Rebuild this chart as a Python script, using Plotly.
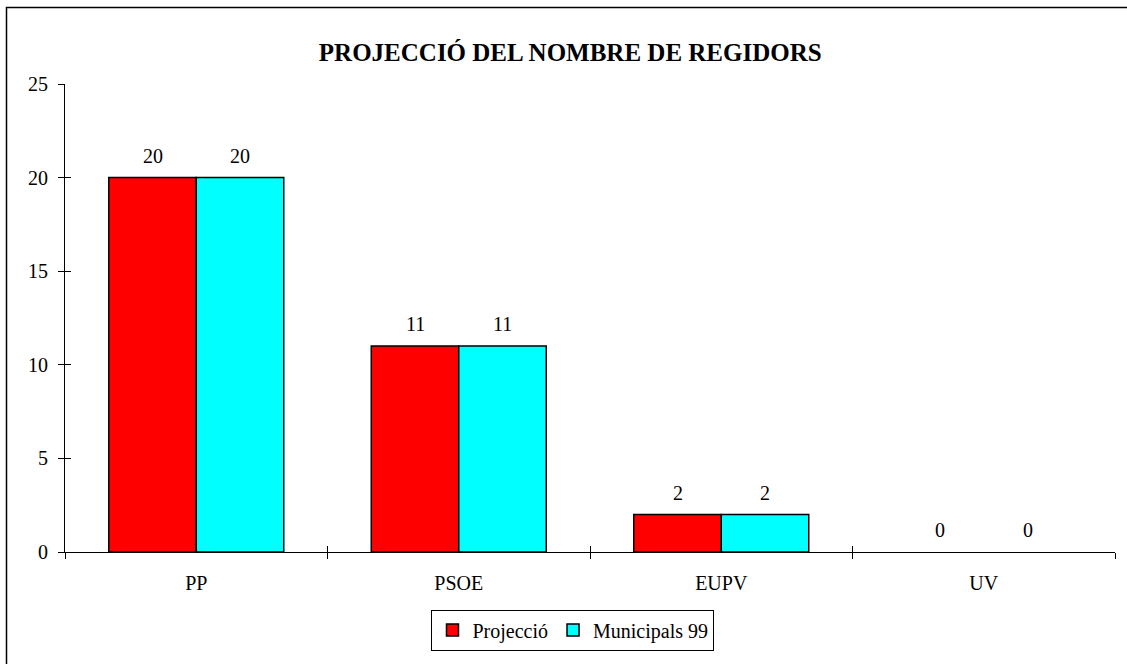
import plotly.graph_objects as go

CATEGORIES = ["PP", "PSOE", "EUPV", "UV"]
PROJECCIO = [20, 11, 2, 0]
MUNICIPALS_99 = [20, 11, 2, 0]
SERIES = [("Projecció", PROJECCIO, "#FF0000"), ("Municipals 99", MUNICIPALS_99, "#00FFFF")]
Y_TICKS = [0, 5, 10, 15, 20, 25]

FONT = "Liberation Serif, Times New Roman, serif"
W, H = 1127, 664
MARGIN = dict(l=65, r=12, t=84, b=112)
BARGAP = 1 / 3

fig = go.Figure()
for name, vals, col in SERIES:
    fig.add_trace(go.Bar(
        x=CATEGORIES, y=vals, name=name,
        # zero-height bars are invisible in the original
        marker=dict(color=col, line=dict(color="black", width=[1.5 if v else 0 for v in vals])),
    ))

# dummy trace so the overlay axes (inner half of the crossing ticks) render
fig.add_trace(go.Scatter(x=CATEGORIES, y=[None] * len(CATEGORIES), xaxis="x2", yaxis="y2",
                         showlegend=False, hoverinfo="skip"))

# value labels above bars
plot_w = W - MARGIN["l"] - MARGIN["r"]
bar_w = plot_w / len(CATEGORIES) * (1 - BARGAP) / len(SERIES)
for i, (name, vals, col) in enumerate(SERIES):
    shift = (i - (len(SERIES) - 1) / 2) * bar_w
    for c, v in zip(CATEGORIES, vals):
        fig.add_annotation(x=c, y=v, text=str(v), showarrow=False, xshift=shift,
                           yanchor="bottom", yshift=9, font=dict(size=20, color="black"))

axis_common = dict(showgrid=False, zeroline=False, linecolor="black", linewidth=1,
                   tickcolor="black", tickwidth=1, ticklen=6, tickfont=dict(size=20))

fig.update_layout(
    width=W, height=H,
    margin=MARGIN,
    paper_bgcolor="white", plot_bgcolor="white",
    font=dict(family=FONT, color="black", size=20),
    title=dict(text="<b>PROJECCIÓ DEL NOMBRE DE REGIDORS</b>", x=0.506, xanchor="center",
               y=1 - 52 / H, yanchor="middle", font=dict(size=25, family=FONT, color="black")),
    barmode="group", bargap=BARGAP, bargroupgap=0,
    xaxis=dict(**axis_common, showline=True, ticks="outside", tickson="boundaries",
               range=[-0.5, len(CATEGORIES) - 0.5], ticklabelstandoff=13),
    yaxis=dict(**axis_common, showline=True, ticks="outside", range=[0, 25],
               tickvals=Y_TICKS, ticklabelstandoff=6),
    xaxis2=dict(**axis_common, overlaying="x", anchor="y2", type="category", ticks="inside",
                tickson="boundaries", showline=False, showticklabels=False,
                range=[-0.5, len(CATEGORIES) - 0.5]),
    yaxis2=dict(**axis_common, overlaying="y", anchor="x2", ticks="inside", showline=False,
                showticklabels=False, range=[0, 25], tickvals=Y_TICKS),
    legend=dict(orientation="h", x=0.4838, xanchor="center", y=-0.1667, yanchor="middle",
                bordercolor="black", borderwidth=1, bgcolor="white",
                font=dict(size=20, family=FONT), itemwidth=30, tracegroupgap=0),
    showlegend=True,
)

# outer chart frame (only the left and top edges are inside the picture)
fig.add_shape(type="rect", xref="paper", yref="paper",
              x0=(6.5 - MARGIN["l"]) / plot_w, x1=1.2,
              y0=-0.5, y1=(H - MARGIN["b"] - 7.5) / (H - MARGIN["t"] - MARGIN["b"]),
              line=dict(color="black", width=1.5), layer="below")

fig.write_html("out.html", config={"displayModeBar": False},
               post_script="document.body.style.margin='0';")
